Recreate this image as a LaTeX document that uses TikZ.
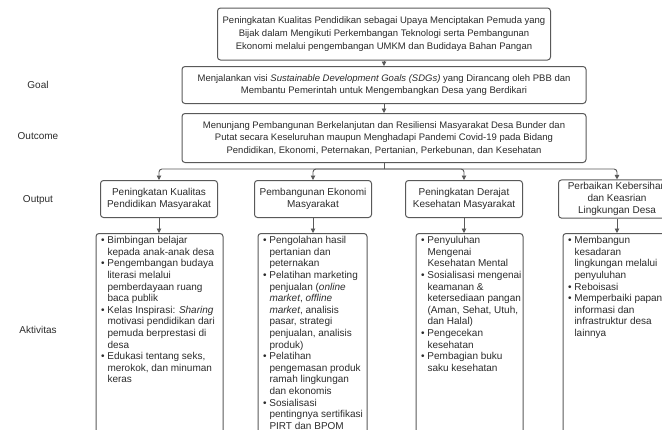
\documentclass[tikz,border=0pt]{standalone}
\usepackage{fontspec}
\setmainfont{Liberation Sans}
\usetikzlibrary{arrows.meta}

\definecolor{boxgray}{HTML}{595959}
\definecolor{txtgray}{HTML}{2B2B2B}

% bullet item with hanging indent, manual breaks by \newline
\newcommand{\itm}[1]{\par\hangindent=6.5pt\hangafter=1\noindent\makebox[6.5pt][l]{\textbullet}#1}
\newcommand{\actlist}[2]{\parbox[t][200pt][t]{#1}{\leftskip=5pt\rightskip=0pt plus 1fil #2}}

\begin{document}
\begin{tikzpicture}
        [x=1pt, y=-1pt,
        box/.style={draw=boxgray, line width=1pt, rounded corners=3pt, text=txtgray, align=center, inner sep=2pt},
        mainbox/.style={box, minimum width=404, font=\fontsize{9.5}{12.8}\selectfont},
        outbox/.style={box, minimum width=117, minimum height=37, font=\fontsize{10}{12.4}\selectfont},
        actbox/.style={box, anchor=north, align=left, inner xsep=0pt, inner ysep=3pt, font=\fontsize{10}{11.6}\selectfont},
        lbl/.style={text=txtgray, font=\fontsize{10}{12}\selectfont},
        conn/.style={draw=boxgray, line width=0.9pt, -{Triangle[length=4.5pt,width=4.5pt]}}]

        \useasboundingbox (0,0) rectangle (662,429);

        % --- Left labels ---
        \node[lbl] (lgoal) at (38,85) {Goal};
        \node[lbl] (loutcome) at (38,136) {Outcome};
        \node[lbl] (loutput) at (38,200) {Output};
        \node[lbl] (lakt) at (38,330) {Aktivitas};

        % --- Top chain ---
        \node[mainbox, minimum width=333, minimum height=52] (purpose) at (384,34)
            {Peningkatan Kualitas Pendidikan sebagai Upaya Menciptakan Pemuda yang\\
             Bijak dalam Mengikuti Perkembangan Teknologi serta Pembangunan\\
             Ekonomi melalui pengembangan UMKM dan Budidaya Bahan Pangan};
        \node[mainbox, minimum height=37] (goal) at (384,85)
            {Menjalankan visi \textit{Sustainable Development Goals (SDGs)} yang Dirancang oleh PBB dan\\
             Membantu Pemerintah untuk Mengembangkan Desa yang Berdikari};
        \node[mainbox, minimum height=49] (outcome) at (384,138)
            {Menunjang Pembangunan Berkelanjutan dan Resiliensi Masyarakat Desa Bunder dan\\
             Putat secara Keseluruhan maupun Menghadapi Pandemi Covid-19 pada Bidang\\
             Pendidikan, Ekonomi, Peternakan, Pertanian, Perkebunan, dan Kesehatan};

        \draw[conn] (purpose) -- (goal);
        \draw[conn] (goal) -- (outcome);

        % --- Output row ---
        \node[outbox] (out1) at (159,199) {Peningkatan Kualitas\\Pendidikan Masyarakat};
        \node[outbox] (out2) at (313,199) {Pembangunan Ekonomi\\Masyarakat};
        \node[outbox] (out3) at (464,199) {Peningkatan Derajat\\Kesehatan Masyarakat};
        \node[outbox] (out4) at (617,199) {Perbaikan Kebersihan\\dan Keasrian\\Lingkungan Desa};

        \coordinate (split) at (384,169);
        \draw[draw=boxgray, line width=0.9pt] (outcome) -- (split);
        \foreach \o in {out1,out2,out3,out4}
            \draw[conn, rounded corners=3pt] (split) -| (\o);

        % --- Activity row ---
        \node[actbox] (act1) at (159.5,233) {\actlist{127pt}{%
            \itm{Bimbingan belajar\newline kepada anak-anak desa}
            \itm{Pengembangan budaya\newline literasi melalui\newline pemberdayaan ruang\newline baca publik}
            \itm{Kelas Inspirasi: \textit{Sharing}\newline motivasi pendidikan dari\newline pemuda berprestasi di\newline desa}
            \itm{Edukasi tentang seks,\newline merokok, dan minuman\newline keras}}};
        \node[actbox] (act2) at (312.5,233) {\actlist{109pt}{%
            \itm{Pengolahan hasil\newline pertanian dan\newline peternakan}
            \itm{Pelatihan marketing\newline penjualan (\textit{online}\newline \textit{market}, \textit{offline}\newline \textit{market}, analisis\newline pasar, strategi\newline penjualan, analisis\newline produk)}
            \itm{Pelatihan\newline pengemasan produk\newline ramah lingkungan\newline dan ekonomis}
            \itm{Sosialisasi\newline pentingnya sertifikasi\newline PIRT dan BPOM}}};
        \node[actbox] (act3) at (469.5,233) {\actlist{107pt}{%
            \itm{Penyuluhan\newline Mengenai\newline Kesehatan Mental}
            \itm{Sosialisasi mengenai\newline keamanan \&\newline ketersediaan pangan\newline (Aman, Sehat, Utuh,\newline dan Halal)}
            \itm{Pengecekan\newline kesehatan}
            \itm{Pembagian buku\newline saku kesehatan}}};
        \node[actbox] (act4) at (617.5,233) {\actlist{109pt}{%
            \itm{Membangun\newline kesadaran\newline lingkungan melalui\newline penyuluhan}
            \itm{Reboisasi}
            \itm{Memperbaiki papan\newline informasi dan\newline infrastruktur desa\newline lainnya}}};

        \foreach \o/\a in {out1/act1,out2/act2,out3/act3,out4/act4}
            \draw[conn] (\o.south) -- (\o.south |- \a.north);
    \end{tikzpicture}
\end{document}
